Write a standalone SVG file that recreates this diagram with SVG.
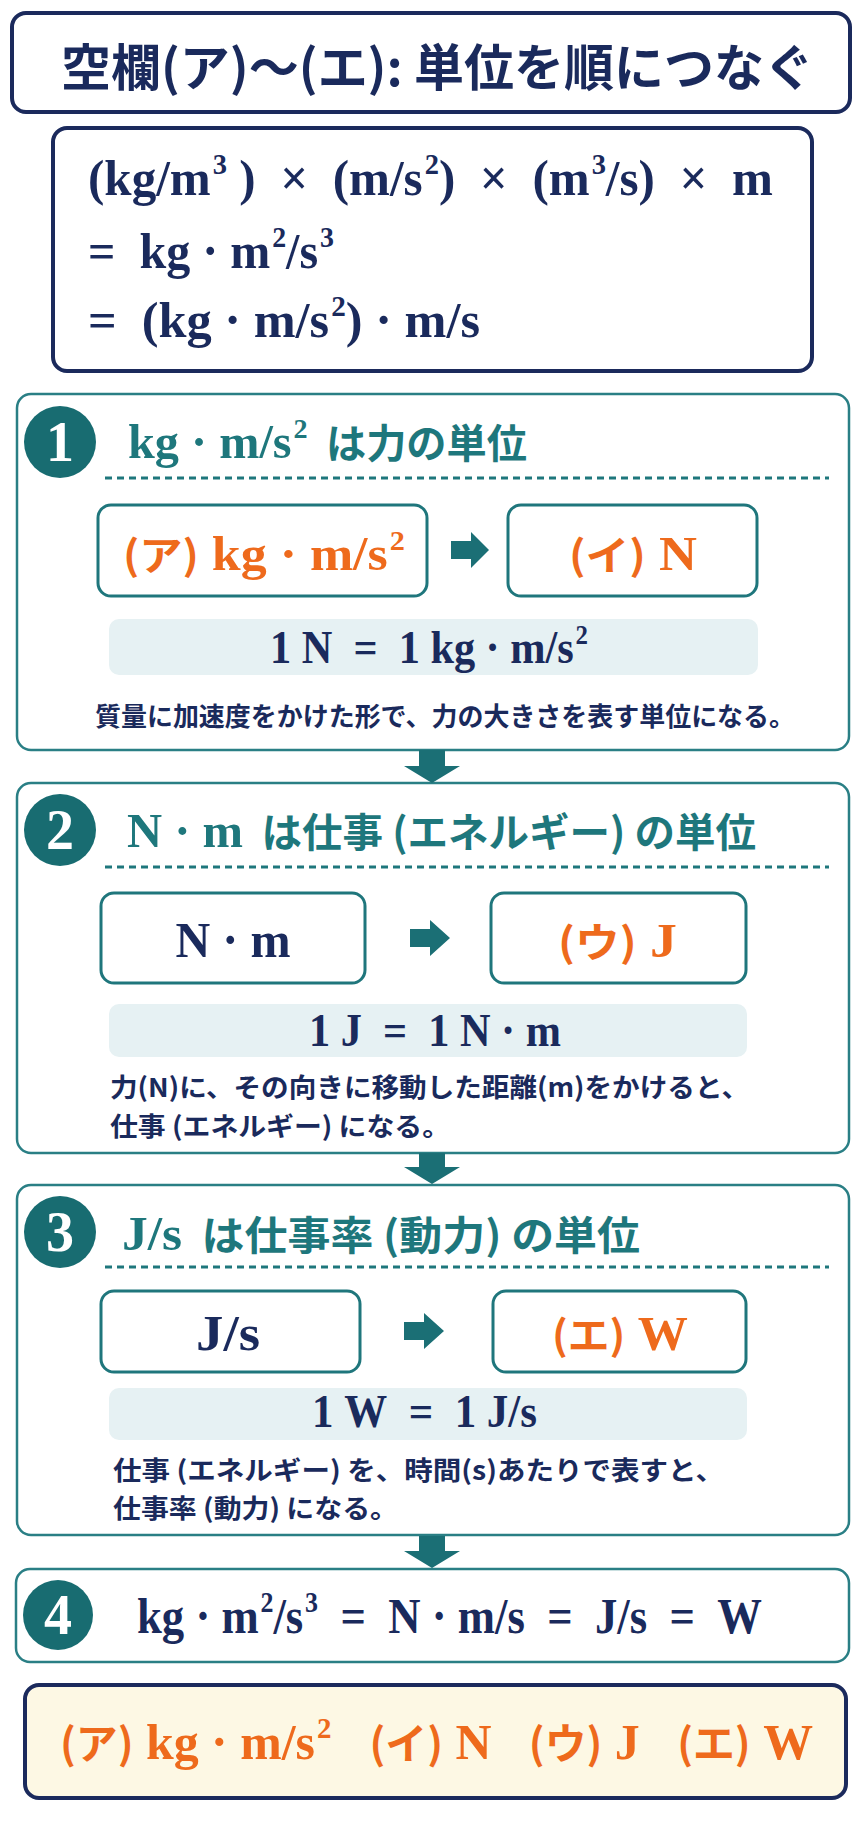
<svg xmlns="http://www.w3.org/2000/svg" width="864" height="1821" viewBox="0 0 864 1821">
<style>
text{white-space:pre}
.nbox{fill:#ffffff;stroke:#1b2a5c;stroke-width:4}
.sec{fill:#ffffff;stroke:#2a7f85;stroke-width:2.5}
.ibox{fill:#ffffff;stroke:#1f767c;stroke-width:3}
.band{fill:#e6f1f3}
.circ{fill:#186c71}
.dots{stroke:#1e777c;stroke-width:3;stroke-dasharray:7 5;fill:none}
.arr{fill:#1b6f75}
.ser{font-family:"Liberation Serif","Times New Roman","Noto Sans CJK JP",serif;font-weight:bold}
.jp{font-family:"Noto Sans CJK JP","Noto Sans CJK SC",sans-serif;font-weight:bold}
.navy{fill:#1a2a5c}
.teal{fill:#1e777c}
.org{fill:#ee6a1c}
.num{font-family:"Liberation Serif","Times New Roman",serif;font-weight:bold;fill:#ffffff;font-size:56px}
</style>
<rect width="864" height="1821" fill="#ffffff"/>
<g id="title">
<rect class="nbox" x="12" y="13" width="838" height="99" rx="14"/>
<text class="jp navy" x="61" y="86" font-size="50" textLength="753" lengthAdjust="spacingAndGlyphs">空欄(ア)～(エ): 単位を順につなぐ</text>
</g>
<g id="formula">
<rect class="nbox" x="53" y="128" width="759" height="243" rx="14"/>
<text class="ser navy" x="88" y="195" font-size="50" textLength="685" lengthAdjust="spacingAndGlyphs">(kg/m<tspan font-size="29" dx="2" dy="-21">3</tspan><tspan dy="21">&#160;)&#160;&#160;×&#160;&#160;(m/s</tspan><tspan font-size="29" dx="2" dy="-21">2</tspan><tspan dy="21">)&#160;&#160;×&#160;&#160;(m</tspan><tspan font-size="29" dx="2" dy="-21">3</tspan><tspan dy="21">/s)&#160;&#160;×&#160;&#160;m</tspan></text>
<text class="ser navy" x="88" y="268" font-size="50" textLength="246" lengthAdjust="spacingAndGlyphs">=&#160;&#160;kg&#160;·&#160;m<tspan font-size="29" dx="2" dy="-21">2</tspan><tspan dy="21">/s</tspan><tspan font-size="29" dx="2" dy="-21">3</tspan></text>
<text class="ser navy" x="88" y="337" font-size="50" textLength="392" lengthAdjust="spacingAndGlyphs">=&#160;&#160;(kg&#160;·&#160;m/s<tspan font-size="29" dx="2" dy="-21">2</tspan><tspan dy="21">)&#160;·&#160;m/s</tspan></text>
</g>
<g id="step1">
<rect class="sec" x="17" y="394" width="832" height="356" rx="14"/>
<circle class="circ" cx="60" cy="442" r="36"/>
<text class="num" x="60" y="461" text-anchor="middle">1</text>
<text class="teal" x="128" y="458" textLength="399" lengthAdjust="spacingAndGlyphs"><tspan class="ser" font-size="48">kg&#160;·&#160;m/s</tspan><tspan class="ser" font-size="28" dx="2" dy="-20">2</tspan><tspan class="jp" font-size="40" dy="20">&#160;&#160;は力の単位</tspan></text>
<line class="dots" x1="105" y1="478" x2="829" y2="478"/>
<rect class="ibox" x="98" y="505" width="329" height="91" rx="13"/>
<text class="org" x="123" y="570" textLength="282" lengthAdjust="spacingAndGlyphs"><tspan class="jp" font-size="40">(ア)</tspan><tspan class="ser" font-size="48">&#160;kg&#160;·&#160;m/s</tspan><tspan class="ser" font-size="28" dx="2" dy="-20">2</tspan></text>
<rect class="ibox" x="508" y="505" width="249" height="91" rx="13"/>
<text class="org" x="569" y="570" textLength="128" lengthAdjust="spacingAndGlyphs"><tspan class="jp" font-size="40">(イ)</tspan><tspan class="ser" font-size="48">&#160;N</tspan></text>
<rect class="band" x="109" y="619" width="649" height="56" rx="10"/>
<text class="ser navy" x="270" y="663" font-size="46" textLength="318" lengthAdjust="spacingAndGlyphs">1&#160;N&#160;&#160;=&#160;&#160;1&#160;kg&#160;·&#160;m/s<tspan font-size="27" dx="2" dy="-19">2</tspan></text>
<text class="jp navy" x="95" y="726" font-size="26" textLength="700" lengthAdjust="spacingAndGlyphs">質量に加速度をかけた形で、力の大きさを表す単位になる。</text>
</g>
<g id="step2">
<rect class="sec" x="17" y="783" width="832" height="370" rx="14"/>
<circle class="circ" cx="60" cy="830" r="36"/>
<text class="num" x="60" y="849" text-anchor="middle">2</text>
<text class="teal" x="127" y="847" textLength="629" lengthAdjust="spacingAndGlyphs"><tspan class="ser" font-size="48">N&#160;·&#160;m</tspan><tspan class="jp" font-size="40">&#160;&#160;は仕事&#160;(エネルギー)&#160;の単位</tspan></text>
<line class="dots" x1="105" y1="867" x2="829" y2="867"/>
<rect class="ibox" x="101" y="893" width="264" height="90" rx="13"/>
<text class="ser navy" x="233" y="957" font-size="50" text-anchor="middle" textLength="115" lengthAdjust="spacingAndGlyphs">N&#160;·&#160;m</text>
<rect class="ibox" x="491" y="893" width="255" height="90" rx="13"/>
<text class="org" x="558" y="957" textLength="119" lengthAdjust="spacingAndGlyphs"><tspan class="jp" font-size="40">(ウ)</tspan><tspan class="ser" font-size="48">&#160;J</tspan></text>
<rect class="band" x="109" y="1004" width="638" height="53" rx="10"/>
<text class="ser navy" x="309" y="1046" font-size="46" textLength="252" lengthAdjust="spacingAndGlyphs">1&#160;J&#160;&#160;=&#160;&#160;1&#160;N&#160;·&#160;m</text>
<text class="jp navy" x="110" y="1097" font-size="26" textLength="639" lengthAdjust="spacingAndGlyphs">力(N)に、その向きに移動した距離(m)をかけると、</text>
<text class="jp navy" x="110" y="1136" font-size="26" textLength="340" lengthAdjust="spacingAndGlyphs">仕事&#160;(エネルギー)&#160;になる。</text>
</g>
<g id="step3">
<rect class="sec" x="17" y="1185" width="832" height="350" rx="14"/>
<circle class="circ" cx="60" cy="1232" r="36"/>
<text class="num" x="60" y="1251" text-anchor="middle">3</text>
<text class="teal" x="122" y="1250" textLength="518" lengthAdjust="spacingAndGlyphs"><tspan class="ser" font-size="48">J/s</tspan><tspan class="jp" font-size="40">&#160;&#160;は仕事率&#160;(動力)&#160;の単位</tspan></text>
<line class="dots" x1="105" y1="1267" x2="829" y2="1267"/>
<rect class="ibox" x="101" y="1291" width="259" height="81" rx="13"/>
<text class="ser navy" x="228" y="1350" font-size="50" text-anchor="middle" textLength="64" lengthAdjust="spacingAndGlyphs">J/s</text>
<rect class="ibox" x="493" y="1291" width="253" height="81" rx="13"/>
<text class="org" x="552" y="1350" textLength="136" lengthAdjust="spacingAndGlyphs"><tspan class="jp" font-size="40">(エ)</tspan><tspan class="ser" font-size="48">&#160;W</tspan></text>
<rect class="band" x="109" y="1388" width="638" height="52" rx="10"/>
<text class="ser navy" x="312" y="1427" font-size="46" textLength="225" lengthAdjust="spacingAndGlyphs">1&#160;W&#160;&#160;=&#160;&#160;1&#160;J/s</text>
<text class="jp navy" x="113" y="1480" font-size="26" textLength="611" lengthAdjust="spacingAndGlyphs">仕事&#160;(エネルギー)&#160;を、時間(s)あたりで表すと、</text>
<text class="jp navy" x="113" y="1518" font-size="26" textLength="285" lengthAdjust="spacingAndGlyphs">仕事率&#160;(動力)&#160;になる。</text>
</g>
<g id="step4">
<rect class="sec" x="16" y="1569" width="833" height="93" rx="14"/>
<circle class="circ" cx="58" cy="1615" r="35"/>
<text class="num" x="58" y="1634" text-anchor="middle" font-size="54">4</text>
<text class="ser navy" x="137" y="1633" font-size="50" textLength="625" lengthAdjust="spacingAndGlyphs">kg&#160;·&#160;m<tspan font-size="29" dx="2" dy="-21">2</tspan><tspan dy="21">/s</tspan><tspan font-size="29" dx="2" dy="-21">3</tspan><tspan dy="21">&#160;&#160;=&#160;&#160;N&#160;·&#160;m/s&#160;&#160;=&#160;&#160;J/s&#160;&#160;=&#160;&#160;W</tspan></text>
</g>
<g id="answer">
<rect x="25" y="1685" width="821" height="113" rx="14" fill="#fdf8e4" stroke="#1b2a5c" stroke-width="4"/>
<text class="org" x="60" y="1759" textLength="753" lengthAdjust="spacingAndGlyphs"><tspan class="jp" font-size="42">(ア)</tspan><tspan class="ser" font-size="50">&#160;kg&#160;·&#160;m/s</tspan><tspan class="ser" font-size="29" dx="2" dy="-21">2</tspan><tspan class="jp" font-size="42" dy="21">&#160;&#160;&#160;&#160;(イ)</tspan><tspan class="ser" font-size="50">&#160;N&#160;&#160;&#160;</tspan><tspan class="jp" font-size="42">(ウ)</tspan><tspan class="ser" font-size="50">&#160;J&#160;&#160;&#160;</tspan><tspan class="jp" font-size="42">(エ)</tspan><tspan class="ser" font-size="50">&#160;W</tspan></text>
</g>
<g id="connectors">
<polygon class="arr" points="451,541 471,541 471,532 489,550 471,568 471,559 451,559"/>
<polygon class="arr" points="410,929 430,929 430,920 450,938 430,956 430,947 410,947"/>
<polygon class="arr" points="404,1322 424,1322 424,1313 444,1331 424,1349 424,1340 404,1340"/>
<polygon class="arr" points="419,750 445,750 445,766 460,766 432,783 404,766 419,766"/>
<polygon class="arr" points="419,1153 445,1153 445,1167 460,1167 432,1184 404,1167 419,1167"/>
<polygon class="arr" points="419,1536 445,1536 445,1551 460,1551 432,1568 404,1551 419,1551"/>
</g>
</svg>
